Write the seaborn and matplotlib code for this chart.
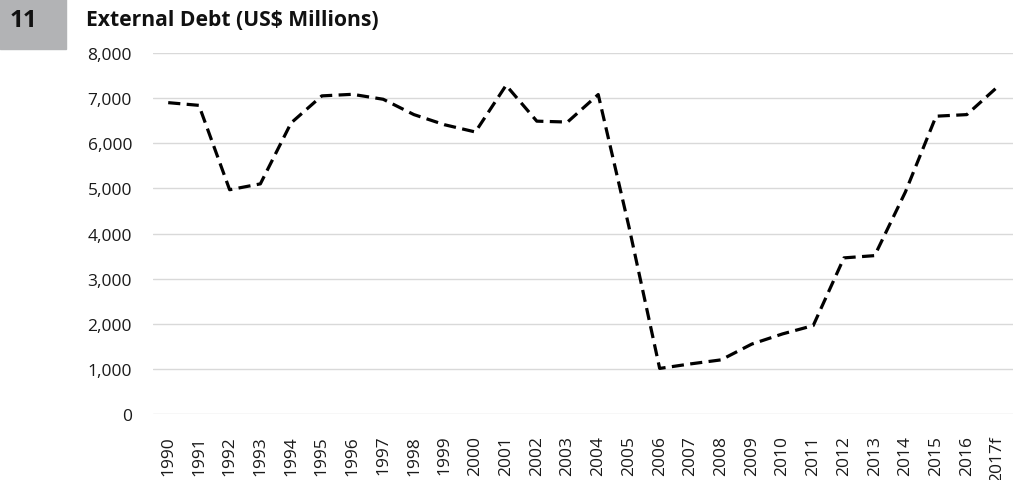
import pandas as pd
import seaborn as sns
import matplotlib.pyplot as plt
from matplotlib import ticker
from matplotlib.patches import Rectangle

years = ['1990', '1991', '1992', '1993', '1994', '1995', '1996', '1997', '1998', '1999',
         '2000', '2001', '2002', '2003', '2004', '2005', '2006', '2007', '2008', '2009',
         '2010', '2011', '2012', '2013', '2014', '2015', '2016', '2017f']
debt = [6900, 6840, 4970, 5100, 6450, 7050, 7085, 6975, 6635, 6410,
        6250, 7285, 6490, 6470, 7080, 4150, 1010, 1110, 1200, 1550,
        1775, 1960, 3460, 3510, 4920, 6600, 6635, 7250]

chart_no = '11'
title = 'External Debt (US$ Millions)'

df = pd.DataFrame({'year': years, 'debt': debt})

sns.set_style('white')
plt.rcParams['font.family'] = ['Open Sans', 'DejaVu Sans']

fig = plt.figure(figsize=(10.19, 4.81), dpi=100)
ax = fig.add_axes([0.150, 0.1372, 0.844, 0.7505])

sns.lineplot(data=df, x='year', y='debt', ax=ax, color='black', linewidth=2.3,
             sort=False)
ax.lines[0].set_dashes((3.8, 2.0))

ax.set_xlim(-0.5, len(years) - 0.5)
ax.set_ylim(0, 8000)
ax.set_yticks(range(0, 8001, 1000))
ax.yaxis.set_major_formatter(ticker.StrMethodFormatter("{x:,.0f}"))
ax.grid(True, axis='y', color='#d9d9d9', linewidth=1.0)
ax.grid(False, axis='x')
ax.set_axisbelow(True)
for s in ax.spines.values():
    s.set_visible(False)
ax.tick_params(axis='y', length=0, pad=15, labelsize=12.5, colors='#1a1a1a')
ax.tick_params(axis='x', length=0, pad=15, labelsize=12.5, colors='#1a1a1a',
               labelrotation=90)
ax.set_xlabel('')
ax.set_ylabel('')

fig.patches.append(Rectangle((0, 1 - 50 / 481), 66 / 1019, 50 / 481,
                             transform=fig.transFigure, color='#b2b3b5',
                             zorder=0))
fig.text(23 / 1019, 1 - 21 / 481, chart_no, ha='center', va='center',
         fontsize=17.5, fontweight='bold', color='#111111')
fig.text(86 / 1019, 1 - 20 / 481, title, ha='left', va='center',
         fontsize=15.2, fontweight='bold', color='#111111')

fig.savefig('out.png', dpi=100)
